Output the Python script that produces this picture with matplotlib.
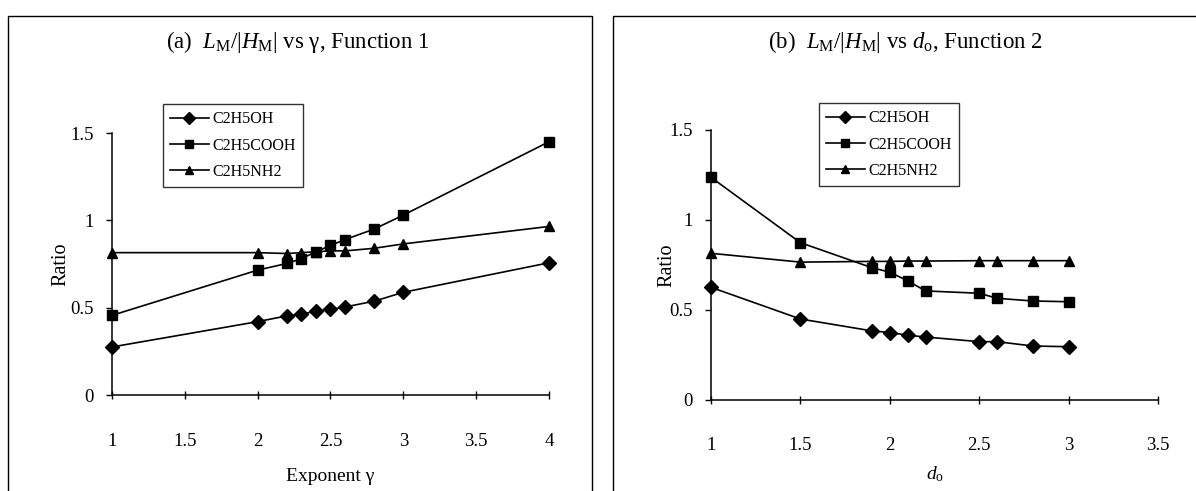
import matplotlib
matplotlib.use("Agg")
import matplotlib.pyplot as plt
from matplotlib.patches import Rectangle

# ---- data ----
gamma = [1, 2, 2.2, 2.3, 2.4, 2.5, 2.6, 2.8, 3, 4]
a_c2h5oh = [0.275, 0.42, 0.453, 0.463, 0.48, 0.49, 0.504, 0.537, 0.588, 0.757]
a_c2h5cooh = [0.456, 0.715, 0.753, 0.78, 0.82, 0.856, 0.89, 0.95, 1.03, 1.45]
a_c2h5nh2 = [0.815, 0.815, 0.81, 0.815, 0.82, 0.825, 0.825, 0.84, 0.865, 0.965]

d_o = [1, 1.5, 1.9, 2, 2.1, 2.2, 2.5, 2.6, 2.8, 3]
b_c2h5oh = [0.626, 0.45, 0.384, 0.375, 0.36, 0.35, 0.324, 0.324, 0.30, 0.296]
b_c2h5cooh = [1.237, 0.874, 0.735, 0.71, 0.662, 0.606, 0.593, 0.565, 0.55, 0.546]
b_c2h5nh2 = [0.815, 0.766, 0.77, 0.77, 0.772, 0.772, 0.774, 0.774, 0.774, 0.774]

series_names = ["C2H5OH", "C2H5COOH", "C2H5NH2"]
markers = ["D", "s", "^"]
yticks = [0, 0.5, 1, 1.5]
ytick_labels = ["0", "0.5", "1", "1.5"]
xticks_a = [1, 1.5, 2, 2.5, 3, 3.5, 4]
xticks_b = [1, 1.5, 2, 2.5, 3, 3.5]

plt.rcParams["font.family"] = ["Liberation Serif", "DejaVu Serif"]
plt.rcParams["mathtext.fontset"] = "custom"
plt.rcParams["mathtext.rm"] = "Liberation Serif"
plt.rcParams["mathtext.it"] = "Liberation Serif:italic"

W, H = 1196, 491
fig = plt.figure(figsize=(W / 100, H / 100), dpi=100)


def px(x0, y0, x1, y1):
    # pixel box (top-left origin) -> figure fraction rect
    return [x0 / W, 1 - y1 / H, (x1 - x0) / W, (y1 - y0) / H]


# panel frames (chart areas), bottom runs off the image
for x0, x1 in [(8, 592), (613, 1200)]:
    fig.patches.append(Rectangle((x0 / W, -0.1), (x1 - x0) / W, 1 - 16 / H + 0.1,
                                 transform=fig.transFigure, fill=False,
                                 edgecolor="black", linewidth=1.0))

ax_a = fig.add_axes(px(112, 133, 549, 395))
ax_b = fig.add_axes(px(711, 130, 1158, 400))

panels = [
    (ax_a, gamma, [a_c2h5oh, a_c2h5cooh, a_c2h5nh2], (1, 4), xticks_a,
     "(a)  $L_{\\rm M}$/|$H_{\\rm M}$| vs \u03b3, Function 1", "Exponent \u03b3",
     (163, 104), 298, -0.28, -0.096),
    (ax_b, d_o, [b_c2h5oh, b_c2h5cooh, b_c2h5nh2], (1, 3.5), xticks_b,
     "(b)  $L_{\\rm M}$/|$H_{\\rm M}$| vs $d_{\\rm o}$, Function 2", "$d_{\\rm o}$",
     (819, 103), 905, -0.24, -0.078),
]

for ax, xs, ys, xlim, xt, title, xlabel, leg_xy, title_x, xl_y, yl_x in panels:
    for vals, name, m in zip(ys, series_names, markers):
        ms = 7 if m == "D" else 7.5
        ax.plot(xs, vals, color="black", linewidth=1.2, marker=m,
                markersize=ms, label=name)
    ax.set_xlim(*xlim)
    ax.set_ylim(0, 1.5)
    ax.set_xticks(xt)
    ax.set_xticklabels([f"{v:g}" for v in xt])
    ax.set_yticks(yticks)
    ax.set_yticklabels(ytick_labels)
    for s in ["top", "right"]:
        ax.spines[s].set_visible(False)
    for s in ["left", "bottom"]:
        ax.spines[s].set_linewidth(1.1)
    ax.tick_params(axis="y", direction="out", length=4, width=1, pad=9, labelsize=13.5)
    ax.tick_params(axis="x", direction="inout", length=6, width=1, pad=24, labelsize=13.5)
    ax.set_xlabel(xlabel, fontsize=14)
    ax.xaxis.set_label_coords(0.5, xl_y)
    ax.set_ylabel("Ratio", fontsize=14.5)
    ax.yaxis.set_label_coords(yl_x, 0.5)
    for line in ax.get_lines():
        line.set_clip_on(False)
    fig.text(title_x / W, 1 - 42 / H, title, ha="center", va="center", fontsize=16.5)
    leg = ax.legend(loc="upper left", bbox_to_anchor=(leg_xy[0] / W, 1 - leg_xy[1] / H),
                    bbox_transform=fig.transFigure, fontsize=11.5, frameon=True,
                    fancybox=False, shadow=False, borderpad=0.45, labelspacing=0.65,
                    handlelength=2.4, handletextpad=0.25, borderaxespad=0)
    leg.get_frame().set_edgecolor("black")
    leg.get_frame().set_linewidth(1.0)
    for h in leg.legend_handles:
        h.set_markersize(6)

fig.savefig("out.png", dpi=100)
